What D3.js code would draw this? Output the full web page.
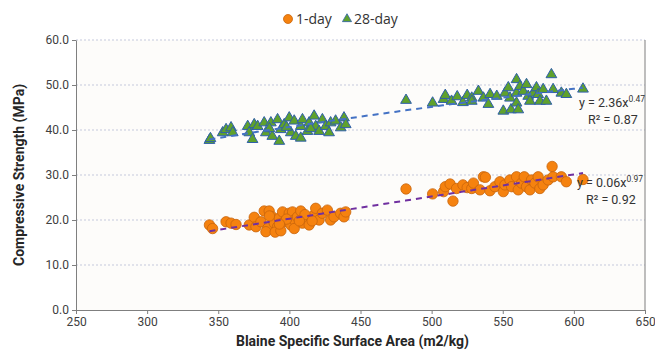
<!DOCTYPE html>
<html>
<head>
<meta charset="utf-8">
<script src="https://cdn.jsdelivr.net/npm/d3@7"></script>
<style>
  body { margin: 0; background: #fff; }
  svg { display: block; font-family: Roboto, "Liberation Sans", sans-serif; }
</style>
</head>
<body>
<svg id="chart" width="655" height="354"></svg>
<script>
// 1-day strength points [Blaine m2/kg, MPa]
const oneDay = [
  [343.8, 18.9], [346, 18.1], [355.5, 19.6], [359, 19.3], [362.5, 19.0], [371.8, 18.9],
  [375.3, 20.6], [376.5, 18.5], [380, 19.6], [382.3, 22.0], [385.8, 22.0], [384.7, 18.1],
  [383.5, 17.4], [388, 20.7], [389.4, 19.3], [391.7, 18.5], [392.9, 20.4], [396.4, 19.6],
  [395.2, 21.8], [399.9, 21.5], [401, 18.9], [402.2, 21.8], [403.4, 20.0], [405.7, 20.7],
  [408, 22.0], [409.2, 19.3], [403.4, 18.1], [412.7, 20.4], [413.9, 18.9], [417.4, 21.1],
  [418.5, 22.6], [420.9, 20.0], [423.2, 21.5], [426.7, 22.2], [429, 20.0], [431.4, 20.7],
  [436, 21.5], [438.4, 20.7], [439.6, 21.8], [390, 17.3], [394, 17.6], [386, 20.9],
  [398, 20.2], [411, 21.2], [416, 19.8], [393, 19.1], [407, 19.8],
  [482, 26.9], [500.7, 25.8], [508.4, 26.3], [509.6, 27.4], [513, 28.0], [517.5, 27.0],
  [522, 27.8], [515, 24.2], [525, 27.2],
  [528.2, 27.0], [529.4, 28.2], [534, 26.7], [536.4, 29.6], [537.8, 29.5], [541, 26.5],
  [544.5, 27.4], [548, 28.5], [550.4, 26.3], [551.5, 27.8], [555, 28.9], [556.2, 27.4],
  [559.7, 29.6], [560.9, 26.7], [563.2, 28.2], [565.1, 29.6], [566.7, 27.4], [570.2, 28.9],
  [569.1, 26.7], [572.6, 28.2], [574.9, 29.6], [576.1, 27.0], [578.4, 27.8], [581.9, 28.9],
  [584.7, 31.9], [585.4, 29.6], [591.2, 29.6], [594.7, 28.5], [606.4, 29.0]
];

// 28-day strength points [Blaine m2/kg, MPa]
const twentyEightDay = [
  [343.8, 37.6], [344.5, 38.0], [353.1, 39.3], [355.5, 40.0], [359, 40.4], [360.2, 39.3],
  [370.7, 40.7], [371.8, 39.3], [375.3, 41.1], [377.7, 40.7], [374.1, 37.8], [382.3, 41.5],
  [383.5, 39.3], [387, 41.5], [388, 38.5], [391.7, 42.2], [392.9, 37.4], [394, 40.0],
  [396.4, 41.1], [399.9, 42.6], [401, 39.3], [403.4, 41.9], [404.5, 38.5], [408, 40.7],
  [409.2, 42.2], [408, 38.1], [412.7, 39.6], [413.9, 41.5], [417.4, 43.0], [418.5, 40.7],
  [420.9, 39.6], [423.2, 42.2], [425.5, 40.7], [427.9, 39.3], [429, 41.5], [432.5, 41.9],
  [436.1, 40.4], [438.4, 42.6], [439.6, 41.1], [386, 40.2], [398, 40.5], [415, 40.2],
  [482, 46.5], [500.7, 45.9], [508.4, 46.7], [509.6, 47.6], [514, 46.3], [518, 47.3],
  [522, 46.0], [525, 47.6],
  [528.2, 47.0], [528.2, 46.3], [532.9, 48.5], [536.4, 47.0], [539.9, 45.6], [541.1, 47.8],
  [545.8, 47.4], [550.4, 44.1], [551.6, 48.1], [553.9, 49.3], [555.1, 47.0], [555.8, 44.4],
  [559.7, 51.1], [559.7, 48.1], [559.7, 45.9], [560.9, 44.4], [562.1, 49.6], [564.4, 48.5],
  [566.7, 50.0], [567.9, 47.4], [569.1, 46.3], [571.4, 48.1], [573.7, 49.3], [574.9, 47.8],
  [576.1, 46.3], [578.4, 48.9], [580.7, 46.3], [584.2, 52.2], [585.4, 48.9], [591.2, 48.1],
  [594.7, 47.8], [606.4, 49.0]
];

const xTicks = [250, 300, 350, 400, 450, 500, 550, 600, 650];
const yTicks = [0, 10, 20, 30, 40, 50, 60];
const seriesNames = ["1-day", "28-day"];
const fitLabels = [["0.06", "0.97", "0.92"], ["2.36", "0.47", "0.87"]];

const svg = d3.select("#chart");
const margin = { top: 40, right: 10, bottom: 44, left: 76 };
const width = +svg.attr("width") - margin.left - margin.right;
const height = +svg.attr("height") - margin.top - margin.bottom;

const x = d3.scaleLinear().domain([250, 650]).range([0, width]);
const y = d3.scaleLinear().domain([0, 60]).range([height, 0]);

const g = svg.append("g").attr("transform", `translate(${margin.left},${margin.top})`);

// plot area background
g.append("rect").attr("width", width).attr("height", height).attr("fill", "#fdfcfa");

// gridlines
g.append("g")
  .selectAll("line")
  .data(yTicks.filter(d => d > 0))
  .join("line")
  .attr("x1", 0).attr("x2", width)
  .attr("y1", d => y(d)).attr("y2", d => y(d))
  .attr("stroke", "#c5c9dc")
  .attr("stroke-dasharray", "2,2");

// right border
g.append("line")
  .attr("x1", width).attr("x2", width).attr("y1", 0).attr("y2", height)
  .attr("stroke", "#7f7f7f");

// axes
const xAxis = g.append("g")
  .attr("transform", `translate(0,${height})`)
  .call(d3.axisBottom(x).tickValues(xTicks).tickSize(4).tickSizeOuter(0).tickFormat(d3.format("d")));
const yAxis = g.append("g")
  .call(d3.axisLeft(y).tickValues(yTicks).tickSize(4).tickSizeOuter(0).tickFormat(d3.format(".1f")));
[xAxis, yAxis].forEach(a => {
  a.selectAll(".domain").attr("stroke", "#7f7f7f");
  a.selectAll(".tick line").attr("stroke", "#7f7f7f");
  a.selectAll("text").attr("fill", "#404040").attr("font-size", 12).attr("font-family", "Roboto");
});

// power-law fit in log space
function powerFit(pts) {
  const lx = pts.map(p => Math.log(p[0])), ly = pts.map(p => Math.log(p[1]));
  const mx = d3.mean(lx), my = d3.mean(ly);
  let sxy = 0, sxx = 0;
  lx.forEach((v, i) => { sxy += (v - mx) * (ly[i] - my); sxx += (v - mx) * (v - mx); });
  const b = sxy / sxx, a = Math.exp(my - b * mx);
  return { a, b, ext: d3.extent(pts, p => p[0]) };
}

const series = [
  { data: oneDay, lineColor: "#7030a0" },
  { data: twentyEightDay, lineColor: "#4472c4" }
];

const line = d3.line().x(d => x(d[0])).y(d => y(d[1]));
series.forEach(s => {
  const f = powerFit(s.data);
  const xs = d3.range(f.ext[0], f.ext[1] + 0.1, (f.ext[1] - f.ext[0]) / 40);
  s.fitLine = xs.map(v => [v, f.a * Math.pow(v, f.b)]);
});

// markers
g.append("g").selectAll("circle")
  .data(oneDay)
  .join("circle")
  .attr("cx", d => x(d[0])).attr("cy", d => y(d[1]))
  .attr("r", 5.2)
  .attr("fill", "#f5820f")
  .attr("stroke", "#c8640c")
  .attr("stroke-width", 0.8);

const tri = d3.symbol().type(d3.symbolTriangle).size(50);
g.append("g").selectAll("path")
  .data(twentyEightDay)
  .join("path")
  .attr("transform", d => `translate(${x(d[0])},${y(d[1]) - 0.5})`)
  .attr("d", tri)
  .attr("fill", "#5fa12c")
  .attr("stroke", "#2f5faa")
  .attr("stroke-width", 1);

// trend lines
series.forEach(s => {
  g.append("path")
    .datum(s.fitLine)
    .attr("fill", "none")
    .attr("stroke", s.lineColor)
    .attr("stroke-width", 2)
    .attr("stroke-dasharray", "6,5")
    .attr("d", line);
});

// equations
const eqPos = [[577, 187], [579, 107]];
fitLabels.forEach((lab, i) => {
  const t = svg.append("text")
    .attr("x", eqPos[i][0]).attr("y", eqPos[i][1])
    .attr("font-size", 12.5).attr("fill", "#333");
  t.append("tspan").text(`y = ${lab[0]}x`);
  t.append("tspan").attr("dy", -5).attr("font-size", 8.5).text(lab[1]);
  svg.append("text")
    .attr("x", eqPos[i][0] + 9).attr("y", eqPos[i][1] + 17)
    .attr("font-size", 12.5).attr("fill", "#333")
    .text(`R² = ${lab[2]}`);
});

// axis titles
svg.append("text")
  .attr("x", margin.left + width / 2 - 8).attr("y", 346)
  .attr("text-anchor", "middle")
  .attr("font-size", 14).attr("font-weight", "bold").attr("fill", "#262626")
  .text("Blaine Specific Surface Area (m2/kg)");
svg.append("text")
  .attr("transform", `translate(24,${margin.top + height / 2}) rotate(-90)`)
  .attr("text-anchor", "middle")
  .attr("font-size", 14).attr("font-weight", "bold").attr("fill", "#262626")
  .text("Compressive Strength (MPa)");

// legend
const leg = svg.append("g").attr("transform", "translate(288,19)");
leg.append("circle").attr("cx", 0).attr("cy", 0).attr("r", 4.5)
  .attr("fill", "#f5820f").attr("stroke", "#c8640c").attr("stroke-width", 0.8);
leg.append("text").attr("x", 8).attr("y", 5).attr("font-size", 14).attr("fill", "#333")
  .attr("font-family", "'Open Sans', sans-serif").text(seriesNames[0]);
leg.append("path").attr("transform", "translate(59,0)").attr("d", d3.symbol().type(d3.symbolTriangle).size(36))
  .attr("fill", "#5fa12c").attr("stroke", "#2f5faa").attr("stroke-width", 0.8);
leg.append("text").attr("x", 66).attr("y", 5).attr("font-size", 14).attr("fill", "#333")
  .attr("font-family", "'Open Sans', sans-serif").text(seriesNames[1]);
</script>
</body>
</html>
